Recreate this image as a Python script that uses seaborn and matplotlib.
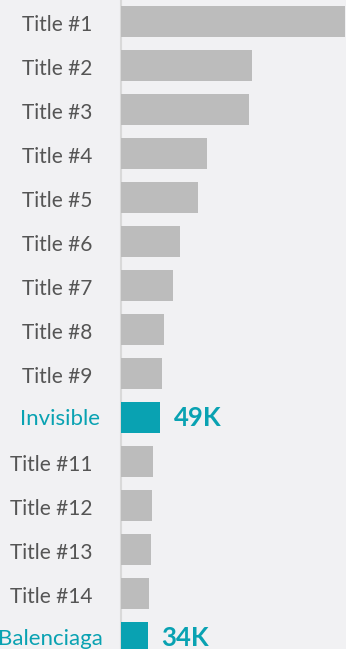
import matplotlib
matplotlib.use("Agg")
import matplotlib.pyplot as plt
import matplotlib.transforms as mtransforms
import seaborn as sns
import pandas as pd

categories = ["Title #1", "Title #2", "Title #3", "Title #4", "Title #5",
              "Title #6", "Title #7", "Title #8", "Title #9", "Invisible",
              "Title #11", "Title #12", "Title #13", "Title #14", "Balenciaga"]
values = [275, 161, 158, 106, 95, 73, 65, 53, 51, 49, 40, 39, 37, 35, 34]
highlighted = ["Invisible", "Balenciaga"]
value_labels = {"Invisible": "49K", "Balenciaga": "34K"}

BG = "#f1f1f3"
GRAY = "#bcbcbc"
TEAL = "#09a2b2"
TEXT = "#555555"

df = pd.DataFrame({"category": categories, "value": values})
df["group"] = ["hl" if c in highlighted else "base" for c in categories]

sns.set_style("white")
plt.rcParams["font.family"] = ["Lato", "DejaVu Sans"]

W, H = 346, 649
fig = plt.figure(figsize=(W / 100, H / 100), dpi=100, facecolor=BG)
left_px = 120.5
ax = fig.add_axes([left_px / W, 0, 1 - left_px / W, 1])
ax.set_facecolor(BG)

sns.barplot(data=df, y="category", x="value", hue="group", orient="h",
            palette={"base": GRAY, "hl": TEAL}, dodge=False, width=0.705,
            saturation=1, linewidth=0, edgecolor="none",
            legend=False, ax=ax, zorder=3, order=categories)

# axis ranges (pixel mapping)
ax.set_xlim(0, (W - left_px) / 0.815)
ax.set_ylim(14 + (649 - 637.5) / 44, -21.5 / 44)

for s in ["top", "right", "bottom"]:
    ax.spines[s].set_visible(False)
ax.spines["left"].set_color("#d9d9d9")
ax.spines["left"].set_linewidth(1.5)
ax.set_xticks([])
ax.set_yticks([])
ax.set_xlabel("")
ax.set_ylabel("")

trans_base = mtransforms.blended_transform_factory(ax.transAxes, ax.transData)
for i, cat in enumerate(categories):
    if cat == "Invisible":
        dx, dy, col, fs = -14.8, -1.3, TEAL, 16
    elif cat == "Balenciaga":
        dx, dy, col, fs = -12.6, -1.3, TEAL, 16
    else:
        dx, dy, col, fs = -20.2, -2.6, TEXT, 15
    tr = mtransforms.offset_copy(trans_base, fig=fig, x=dx, y=dy, units="points")
    ax.text(0, i, cat, transform=tr, ha="right", va="center",
            fontsize=fs, color=col, clip_on=False)

for i, cat in enumerate(categories):
    if cat in value_labels:
        ax.annotate(value_labels[cat], xy=(values[i], i), xytext=(9.6, 0),
                    textcoords="offset points", ha="left", va="center",
                    fontsize=18.5, fontweight="bold", color=TEAL)

fig.savefig("out.png", dpi=100, facecolor=BG)
